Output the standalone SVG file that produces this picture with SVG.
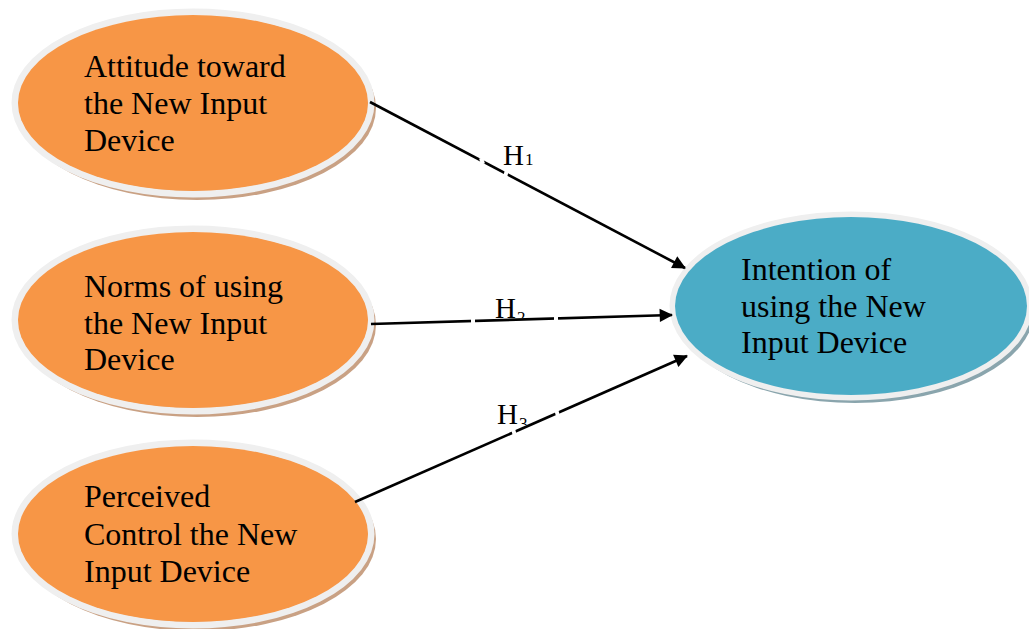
<svg xmlns="http://www.w3.org/2000/svg" width="1029" height="629" viewBox="0 0 1029 629">
<style>
.lbl{font-family:"Liberation Serif","Times New Roman",serif;font-size:32px;fill:#000}
.h{font-family:"Liberation Serif","Times New Roman",serif;font-size:29px;fill:#000}
.sub{font-family:"Liberation Serif","Times New Roman",serif;font-size:17px;fill:#000}
.shO{fill:#c9a184}
.shB{fill:#8aa5ad}
.ring{fill:none;stroke:#efefef;stroke-width:7}
.or{fill:#f79646}
.bl{fill:#4bacc6}
.con{stroke:#000;stroke-width:2.6;fill:none;marker-end:url(#arr)}
.gap{stroke:#fff;stroke-width:4}
</style>
<defs>
<marker id="arr" viewBox="0 0 10 10" refX="9" refY="5" markerWidth="7" markerHeight="7" markerUnits="userSpaceOnUse" orient="auto" style="overflow:visible">
<path d="M0,0 L10,5 L0,10 z" fill="#000" transform="scale(1.9) translate(-4.5,-2.4)"/>
</marker>
<clipPath id="c2"><rect x="480" y="290" width="80" height="28"/></clipPath>
<clipPath id="c3"><rect x="480" y="395" width="80" height="30"/></clipPath>
</defs>
<rect width="1029" height="629" fill="#fff"/>

<g id="node-attitude">
<ellipse class="shO" cx="197" cy="108" rx="179" ry="92"/>
<ellipse class="ring" cx="193" cy="103" rx="178" ry="91"/>
<ellipse class="or" cx="193" cy="103" rx="175" ry="88"/>
<text class="lbl" x="84" y="77">Attitude toward</text>
<text class="lbl" x="84" y="114">the New Input</text>
<text class="lbl" x="84" y="151">Device</text>
</g>

<g id="node-norms">
<ellipse class="shO" cx="197" cy="325" rx="179" ry="92"/>
<ellipse class="ring" cx="193" cy="320" rx="178" ry="91"/>
<ellipse class="or" cx="193" cy="320" rx="175" ry="88"/>
<text class="lbl" x="84" y="297">Norms of using</text>
<text class="lbl" x="84" y="334">the New Input</text>
<text class="lbl" x="84" y="370">Device</text>
</g>

<g id="node-perceived">
<ellipse class="shO" cx="197" cy="539" rx="179" ry="92"/>
<ellipse class="ring" cx="193" cy="534" rx="178" ry="91"/>
<ellipse class="or" cx="193" cy="534" rx="175" ry="88"/>
<text class="lbl" x="84" y="507">Perceived</text>
<text class="lbl" x="84" y="545">Control the New</text>
<text class="lbl" x="84" y="582">Input Device</text>
</g>

<g id="node-intention">
<ellipse class="shB" cx="855" cy="311" rx="179" ry="92"/>
<ellipse class="ring" cx="851" cy="306" rx="178" ry="91"/>
<ellipse class="bl" cx="851" cy="306" rx="176" ry="89"/>
<text class="lbl" x="741" y="280">Intention of</text>
<text class="lbl" x="741" y="317">using the New</text>
<text class="lbl" x="741" y="353">Input Device</text>
</g>

<g id="connectors">
<line class="con" x1="370" y1="102" x2="685" y2="268"/>
<line class="con" x1="371" y1="324" x2="672" y2="315"/>
<line class="con" x1="355" y1="502" x2="687" y2="356"/>
<line class="gap" x1="481" y1="158" x2="483" y2="164"/>
<line class="gap" x1="507" y1="170" x2="505" y2="177"/>
<line class="gap" x1="473" y1="318" x2="473" y2="325"/>
<line class="gap" x1="556" y1="316" x2="556" y2="323"/>
<line class="gap" x1="513" y1="429" x2="515" y2="436"/>
<line class="gap" x1="556" y1="409" x2="558" y2="416"/>
</g>

<g id="labels">
<text x="503" y="165"><tspan class="h">H</tspan><tspan class="sub" dx="1">1</tspan></text>
<text x="495" y="318" clip-path="url(#c2)"><tspan class="h">H</tspan><tspan class="sub" dx="1" dy="5">2</tspan></text>
<text x="497" y="424" clip-path="url(#c3)"><tspan class="h">H</tspan><tspan class="sub" dx="1" dy="5">3</tspan></text>
</g>
</svg>
